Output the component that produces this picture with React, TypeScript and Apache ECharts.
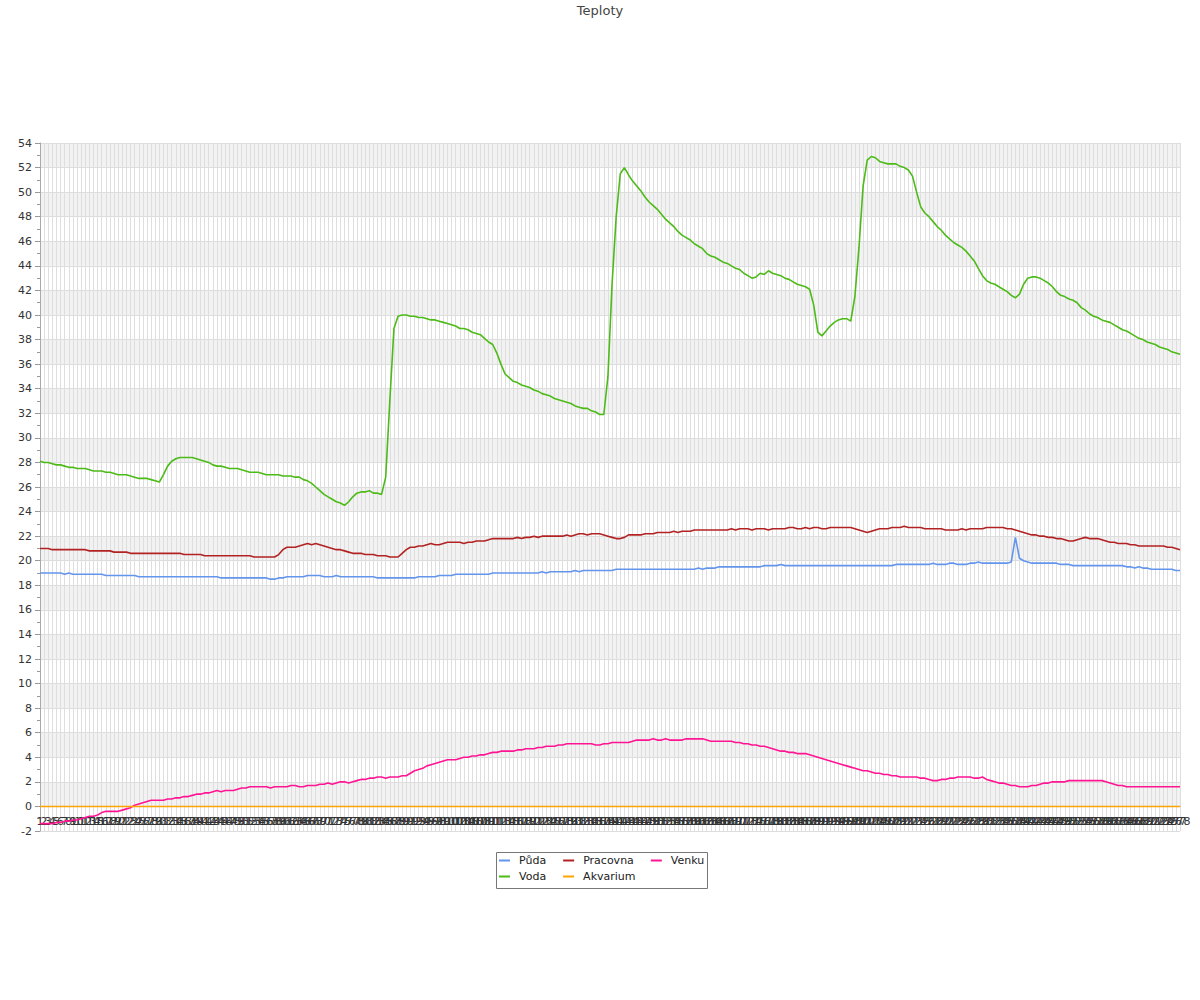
import React, { useEffect, useRef } from "react";
import * as echarts from "echarts";

const categories: string[] = Array.from({ length: 278 }, (_, i) => String(i + 1));

const puda: number[] = [
  19.0, 19.0, 19.0, 19.0, 19.0, 19.0, 18.9, 19.0, 18.9, 18.9,
  18.9, 18.9, 18.9, 18.9, 18.9, 18.9, 18.8, 18.8, 18.8, 18.8,
  18.8, 18.8, 18.8, 18.8, 18.7, 18.7, 18.7, 18.7, 18.7, 18.7,
  18.7, 18.7, 18.7, 18.7, 18.7, 18.7, 18.7, 18.7, 18.7, 18.7,
  18.7, 18.7, 18.7, 18.7, 18.6, 18.6, 18.6, 18.6, 18.6, 18.6,
  18.6, 18.6, 18.6, 18.6, 18.6, 18.6, 18.5, 18.5, 18.6, 18.6,
  18.7, 18.7, 18.7, 18.7, 18.7, 18.8, 18.8, 18.8, 18.8, 18.7,
  18.7, 18.7, 18.8, 18.7, 18.7, 18.7, 18.7, 18.7, 18.7, 18.7,
  18.7, 18.7, 18.6, 18.6, 18.6, 18.6, 18.6, 18.6, 18.6, 18.6,
  18.6, 18.6, 18.7, 18.7, 18.7, 18.7, 18.7, 18.8, 18.8, 18.8,
  18.8, 18.9, 18.9, 18.9, 18.9, 18.9, 18.9, 18.9, 18.9, 18.9,
  19.0, 19.0, 19.0, 19.0, 19.0, 19.0, 19.0, 19.0, 19.0, 19.0,
  19.0, 19.0, 19.1, 19.0, 19.1, 19.1, 19.1, 19.1, 19.1, 19.1,
  19.2, 19.1, 19.2, 19.2, 19.2, 19.2, 19.2, 19.2, 19.2, 19.2,
  19.3, 19.3, 19.3, 19.3, 19.3, 19.3, 19.3, 19.3, 19.3, 19.3,
  19.3, 19.3, 19.3, 19.3, 19.3, 19.3, 19.3, 19.3, 19.3, 19.3,
  19.4, 19.3, 19.4, 19.4, 19.4, 19.5, 19.5, 19.5, 19.5, 19.5,
  19.5, 19.5, 19.5, 19.5, 19.5, 19.5, 19.6, 19.6, 19.6, 19.6,
  19.7, 19.6, 19.6, 19.6, 19.6, 19.6, 19.6, 19.6, 19.6, 19.6,
  19.6, 19.6, 19.6, 19.6, 19.6, 19.6, 19.6, 19.6, 19.6, 19.6,
  19.6, 19.6, 19.6, 19.6, 19.6, 19.6, 19.6, 19.6, 19.7, 19.7,
  19.7, 19.7, 19.7, 19.7, 19.7, 19.7, 19.7, 19.8, 19.7, 19.7,
  19.7, 19.8, 19.8, 19.7, 19.7, 19.7, 19.8, 19.8, 19.9, 19.8,
  19.8, 19.8, 19.8, 19.8, 19.8, 19.8, 19.9, 21.9, 20.2, 20.0,
  19.9, 19.8, 19.8, 19.8, 19.8, 19.8, 19.8, 19.8, 19.7, 19.7,
  19.7, 19.6, 19.6, 19.6, 19.6, 19.6, 19.6, 19.6, 19.6, 19.6,
  19.6, 19.6, 19.6, 19.6, 19.5, 19.5, 19.4, 19.5, 19.4, 19.4,
  19.3, 19.3, 19.3, 19.3, 19.3, 19.3, 19.2, 19.2,
];

const pracovna: number[] = [
  21.0, 21.0, 21.0, 20.9, 20.9, 20.9, 20.9, 20.9, 20.9, 20.9,
  20.9, 20.9, 20.8, 20.8, 20.8, 20.8, 20.8, 20.8, 20.7, 20.7,
  20.7, 20.7, 20.6, 20.6, 20.6, 20.6, 20.6, 20.6, 20.6, 20.6,
  20.6, 20.6, 20.6, 20.6, 20.6, 20.5, 20.5, 20.5, 20.5, 20.5,
  20.4, 20.4, 20.4, 20.4, 20.4, 20.4, 20.4, 20.4, 20.4, 20.4,
  20.4, 20.4, 20.3, 20.3, 20.3, 20.3, 20.3, 20.3, 20.5, 20.9,
  21.1, 21.1, 21.1, 21.2, 21.3, 21.4, 21.3, 21.4, 21.3, 21.2,
  21.1, 21.0, 20.9, 20.9, 20.8, 20.7, 20.6, 20.6, 20.6, 20.5,
  20.5, 20.5, 20.4, 20.4, 20.4, 20.3, 20.3, 20.3, 20.6, 20.9,
  21.1, 21.1, 21.2, 21.2, 21.3, 21.4, 21.3, 21.3, 21.4, 21.5,
  21.5, 21.5, 21.5, 21.4, 21.5, 21.5, 21.6, 21.6, 21.6, 21.7,
  21.8, 21.8, 21.8, 21.8, 21.8, 21.8, 21.9, 21.8, 21.9, 21.9,
  22.0, 21.9, 22.0, 22.0, 22.0, 22.0, 22.0, 22.0, 22.1, 22.0,
  22.1, 22.2, 22.2, 22.1, 22.2, 22.2, 22.2, 22.1, 22.0, 21.9,
  21.8, 21.8, 21.9, 22.1, 22.1, 22.1, 22.1, 22.2, 22.2, 22.2,
  22.3, 22.3, 22.3, 22.3, 22.4, 22.3, 22.4, 22.4, 22.4, 22.5,
  22.5, 22.5, 22.5, 22.5, 22.5, 22.5, 22.5, 22.5, 22.6, 22.5,
  22.6, 22.6, 22.6, 22.5, 22.6, 22.6, 22.6, 22.5, 22.6, 22.6,
  22.6, 22.6, 22.7, 22.7, 22.6, 22.6, 22.7, 22.6, 22.7, 22.7,
  22.6, 22.6, 22.7, 22.7, 22.7, 22.7, 22.7, 22.7, 22.6, 22.5,
  22.4, 22.3, 22.4, 22.5, 22.6, 22.6, 22.6, 22.7, 22.7, 22.7,
  22.8, 22.7, 22.7, 22.7, 22.7, 22.6, 22.6, 22.6, 22.6, 22.6,
  22.5, 22.5, 22.5, 22.5, 22.6, 22.5, 22.6, 22.6, 22.6, 22.6,
  22.7, 22.7, 22.7, 22.7, 22.7, 22.6, 22.6, 22.5, 22.4, 22.3,
  22.2, 22.1, 22.1, 22.0, 22.0, 21.9, 21.9, 21.8, 21.8, 21.7,
  21.6, 21.6, 21.7, 21.8, 21.9, 21.8, 21.8, 21.8, 21.7, 21.6,
  21.5, 21.5, 21.4, 21.4, 21.4, 21.3, 21.3, 21.2, 21.2, 21.2,
  21.2, 21.2, 21.2, 21.2, 21.1, 21.1, 21.0, 20.9,
];

const venku: number[] = [
  -1.4, -1.4, -1.4, -1.4, -1.3, -1.3, -1.2, -1.2, -1.1, -1.1,
  -1.0, -0.9, -0.8, -0.8, -0.7, -0.5, -0.4, -0.4, -0.4, -0.4,
  -0.3, -0.2, -0.1, 0.1, 0.2, 0.3, 0.4, 0.5, 0.5, 0.5,
  0.5, 0.6, 0.6, 0.7, 0.7, 0.8, 0.8, 0.9, 1.0, 1.0,
  1.1, 1.1, 1.2, 1.3, 1.2, 1.3, 1.3, 1.3, 1.4, 1.5,
  1.5, 1.6, 1.6, 1.6, 1.6, 1.6, 1.5, 1.6, 1.6, 1.6,
  1.6, 1.7, 1.7, 1.6, 1.6, 1.7, 1.7, 1.7, 1.8, 1.8,
  1.9, 1.8, 1.9, 2.0, 2.0, 1.9, 2.0, 2.1, 2.2, 2.2,
  2.3, 2.3, 2.4, 2.4, 2.3, 2.4, 2.4, 2.4, 2.5, 2.5,
  2.7, 2.9, 3.0, 3.1, 3.3, 3.4, 3.5, 3.6, 3.7, 3.8,
  3.8, 3.8, 3.9, 4.0, 4.0, 4.1, 4.1, 4.2, 4.2, 4.3,
  4.4, 4.4, 4.5, 4.5, 4.5, 4.5, 4.6, 4.6, 4.7, 4.7,
  4.7, 4.8, 4.8, 4.9, 4.9, 4.9, 5.0, 5.0, 5.1, 5.1,
  5.1, 5.1, 5.1, 5.1, 5.1, 5.0, 5.0, 5.1, 5.1, 5.2,
  5.2, 5.2, 5.2, 5.2, 5.3, 5.4, 5.4, 5.4, 5.4, 5.5,
  5.4, 5.4, 5.5, 5.4, 5.4, 5.4, 5.4, 5.5, 5.5, 5.5,
  5.5, 5.5, 5.4, 5.3, 5.3, 5.3, 5.3, 5.3, 5.3, 5.2,
  5.2, 5.1, 5.1, 5.0, 5.0, 4.9, 4.9, 4.8, 4.7, 4.6,
  4.5, 4.5, 4.4, 4.4, 4.3, 4.3, 4.3, 4.2, 4.1, 4.0,
  3.9, 3.8, 3.7, 3.6, 3.5, 3.4, 3.3, 3.2, 3.1, 3.0,
  2.9, 2.9, 2.8, 2.7, 2.7, 2.6, 2.6, 2.5, 2.5, 2.4,
  2.4, 2.4, 2.4, 2.4, 2.3, 2.3, 2.2, 2.1, 2.1, 2.2,
  2.2, 2.3, 2.3, 2.4, 2.4, 2.4, 2.4, 2.3, 2.3, 2.4,
  2.2, 2.1, 2.0, 1.9, 1.9, 1.8, 1.7, 1.7, 1.6, 1.6,
  1.6, 1.7, 1.7, 1.8, 1.9, 1.9, 2.0, 2.0, 2.0, 2.0,
  2.1, 2.1, 2.1, 2.1, 2.1, 2.1, 2.1, 2.1, 2.1, 2.0,
  1.9, 1.8, 1.7, 1.7, 1.6, 1.6, 1.6, 1.6, 1.6, 1.6,
  1.6, 1.6, 1.6, 1.6, 1.6, 1.6, 1.6, 1.6,
];

const voda: number[] = [
  28.1, 28.0, 28.0, 27.9, 27.8, 27.8, 27.7, 27.6, 27.6, 27.5,
  27.5, 27.5, 27.4, 27.3, 27.3, 27.3, 27.2, 27.2, 27.1, 27.0,
  27.0, 27.0, 26.9, 26.8, 26.7, 26.7, 26.7, 26.6, 26.5, 26.4,
  27.0, 27.7, 28.1, 28.3, 28.4, 28.4, 28.4, 28.4, 28.3, 28.2,
  28.1, 28.0, 27.8, 27.7, 27.7, 27.6, 27.5, 27.5, 27.5, 27.4,
  27.3, 27.2, 27.2, 27.2, 27.1, 27.0, 27.0, 27.0, 27.0, 26.9,
  26.9, 26.9, 26.8, 26.8, 26.6, 26.5, 26.3, 26.0, 25.7, 25.4,
  25.2, 25.0, 24.8, 24.7, 24.5, 24.8, 25.2, 25.5, 25.6, 25.6,
  25.7, 25.5, 25.5, 25.4, 26.8, 33.0, 38.9, 39.9, 40.0, 40.0,
  39.9, 39.9, 39.8, 39.8, 39.7, 39.6, 39.6, 39.5, 39.4, 39.3,
  39.2, 39.1, 38.9, 38.9, 38.8, 38.6, 38.5, 38.4, 38.1, 37.8,
  37.6, 36.9, 36.0, 35.2, 34.9, 34.6, 34.5, 34.3, 34.2, 34.1,
  33.9, 33.8, 33.6, 33.5, 33.4, 33.2, 33.1, 33.0, 32.9, 32.8,
  32.6, 32.5, 32.4, 32.4, 32.2, 32.1, 31.9, 31.9, 35.0, 42.5,
  48.0, 51.5, 52.0, 51.4, 50.9, 50.5, 50.1, 49.6, 49.2, 48.9,
  48.6, 48.2, 47.8, 47.5, 47.2, 46.8, 46.5, 46.3, 46.1, 45.8,
  45.6, 45.4, 45.0, 44.8, 44.7, 44.5, 44.3, 44.2, 44.0, 43.8,
  43.7, 43.4, 43.2, 43.0, 43.1, 43.4, 43.3, 43.6, 43.4, 43.3,
  43.2, 43.0, 42.9, 42.7, 42.5, 42.4, 42.3, 42.1, 40.8, 38.6,
  38.3, 38.7, 39.1, 39.4, 39.6, 39.7, 39.7, 39.5, 41.5, 45.5,
  50.5, 52.6, 52.9, 52.8, 52.5, 52.4, 52.3, 52.3, 52.3, 52.1,
  52.0, 51.8, 51.3, 50.0, 48.8, 48.3, 48.0, 47.6, 47.2, 46.9,
  46.5, 46.2, 45.9, 45.7, 45.5, 45.2, 44.8, 44.4, 43.8, 43.2,
  42.8, 42.6, 42.5, 42.3, 42.1, 41.9, 41.6, 41.4, 41.7, 42.5,
  43.0, 43.1, 43.1, 43.0, 42.8, 42.6, 42.3, 41.9, 41.6, 41.5,
  41.3, 41.2, 41.0, 40.6, 40.4, 40.1, 39.9, 39.8, 39.6, 39.5,
  39.4, 39.2, 39.0, 38.8, 38.7, 38.5, 38.3, 38.1, 38.0, 37.8,
  37.7, 37.6, 37.4, 37.3, 37.2, 37.0, 36.9, 36.8,
];

const akvarium: number[] = [
  0, 0, 0, 0, 0, 0, 0, 0, 0, 0, 0, 0, 0, 0, 0, 0, 0, 0, 0, 0,
  0, 0, 0, 0, 0, 0, 0, 0, 0, 0, 0, 0, 0, 0, 0, 0, 0, 0, 0, 0,
  0, 0, 0, 0, 0, 0, 0, 0, 0, 0, 0, 0, 0, 0, 0, 0, 0, 0, 0, 0,
  0, 0, 0, 0, 0, 0, 0, 0, 0, 0, 0, 0, 0, 0, 0, 0, 0, 0, 0, 0,
  0, 0, 0, 0, 0, 0, 0, 0, 0, 0, 0, 0, 0, 0, 0, 0, 0, 0, 0, 0,
  0, 0, 0, 0, 0, 0, 0, 0, 0, 0, 0, 0, 0, 0, 0, 0, 0, 0, 0, 0,
  0, 0, 0, 0, 0, 0, 0, 0, 0, 0, 0, 0, 0, 0, 0, 0, 0, 0, 0, 0,
  0, 0, 0, 0, 0, 0, 0, 0, 0, 0, 0, 0, 0, 0, 0, 0, 0, 0, 0, 0,
  0, 0, 0, 0, 0, 0, 0, 0, 0, 0, 0, 0, 0, 0, 0, 0, 0, 0, 0, 0,
  0, 0, 0, 0, 0, 0, 0, 0, 0, 0, 0, 0, 0, 0, 0, 0, 0, 0, 0, 0,
  0, 0, 0, 0, 0, 0, 0, 0, 0, 0, 0, 0, 0, 0, 0, 0, 0, 0, 0, 0,
  0, 0, 0, 0, 0, 0, 0, 0, 0, 0, 0, 0, 0, 0, 0, 0, 0, 0, 0, 0,
  0, 0, 0, 0, 0, 0, 0, 0, 0, 0, 0, 0, 0, 0, 0, 0, 0, 0, 0, 0,
  0, 0, 0, 0, 0, 0, 0, 0, 0, 0, 0, 0, 0, 0, 0, 0, 0, 0,
];

const seriesNames = ["Půda", "Pracovna", "Venku", "Voda", "Akvarium"];
const seriesColors = ["#6495ED", "#B22222", "#FF1493", "#4CBB17", "#FFA500"];
const seriesData = [puda, pracovna, venku, voda, akvarium];
const legendRow1 = ["Půda", "Pracovna", "Venku"];
const legendRow2 = ["Voda", "Akvarium"];

const FONT = "DejaVu Sans";

const legendBase = {
  orient: "horizontal",
  left: 499,
  padding: 0,
  itemGap: 17,
  itemWidth: 11,
  itemHeight: 2,
  icon: "rect",
  textStyle: { fontFamily: FONT, fontSize: 11, color: "#222", padding: [0, 0, 0, 4] },
};

export default function App() {
  const ref = useRef<HTMLDivElement>(null);
  useEffect(() => {
    document.body.style.margin = "0";
    if (!ref.current) return;
    const chart = echarts.init(ref.current, undefined, { renderer: "svg" });
    chart.setOption({
      animation: false,
      backgroundColor: "#ffffff",
      textStyle: { fontFamily: FONT },
      title: {
        text: "Teploty",
        left: "center",
        top: -1,
        textStyle: { fontFamily: FONT, fontSize: 13, fontWeight: "normal", color: "#444" },
      },
      legend: [
        { ...legendBase, data: legendRow1, top: 855 },
        { ...legendBase, data: legendRow2, top: 871 },
      ],
      graphic: [
        {
          type: "rect",
          left: 494,
          top: 850,
          shape: { width: 211, height: 36 },
          style: { fill: "none", stroke: "#777", lineWidth: 1 },
          silent: true,
        },
      ],
      grid: { left: 40, right: 20, top: 143, bottom: 169, containLabel: false },
      xAxis: {
        type: "category",
        data: categories,
        boundaryGap: false,
        offset: -25,
        axisLine: { onZero: false, lineStyle: { color: "#999" } },
        axisTick: { show: false, interval: 0 },
        axisLabel: { interval: 0, fontFamily: FONT, fontSize: 11, color: "#333", margin: 10 },
        splitLine: { show: true, interval: 0, lineStyle: { color: "#dedede", width: 1 } },
      },
      yAxis: {
        type: "value",
        min: -2,
        max: 54,
        interval: 2,
        axisLine: { show: true, lineStyle: { color: "#aaa" } },
        axisTick: { show: true, length: 5, lineStyle: { color: "#999" } },
        minorTick: { show: true, splitNumber: 2, length: 3, lineStyle: { color: "#999" } },
        axisLabel: { fontFamily: FONT, fontSize: 11, color: "#333", margin: 8 },
        splitLine: { show: true, lineStyle: { color: "#dddddd" } },
        splitArea: { show: true, areaStyle: { color: ["#ffffff", "#f2f2f2"] } },
      },
      series: seriesNames.map((name, k) => ({
        name,
        type: "line",
        data: seriesData[k],
        showSymbol: false,
        symbol: "none",
        color: seriesColors[k],
        lineStyle: { width: 1.6, color: seriesColors[k] },
        z: name === "Akvarium" ? 5 : 3,
      })),
    });
    return () => chart.dispose();
  }, []);
  return <div ref={ref} style={{ width: 1200, height: 1000 }} />;
}
